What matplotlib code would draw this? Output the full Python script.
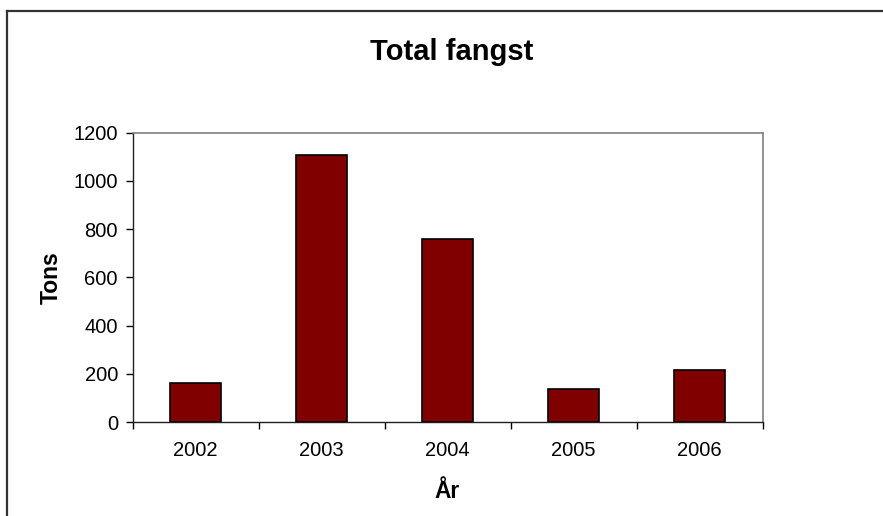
import matplotlib
matplotlib.use('Agg')
import matplotlib.pyplot as plt
from matplotlib.lines import Line2D

# data
years = ['2002', '2003', '2004', '2005', '2006']
tons = [161, 1108, 759, 138, 215]

plt.rcParams['font.family'] = ['Liberation Sans', 'DejaVu Sans']

W, H = 883, 516
fig = plt.figure(figsize=(W / 100, H / 100), dpi=100)

# plot area in pixels: left 132.5, right 762.5, top 132.7, bottom 422
ax = fig.add_axes([132.5 / W, 1 - 422 / H, (762.5 - 132.5) / W, (422 - 132.7) / H])

x = list(range(len(years)))
ax.bar(x, tons, width=0.4, color='#800000', edgecolor='black', linewidth=1.2, zorder=3)

ax.set_xlim(-0.5, len(years) - 0.5)
ax.set_ylim(0, 1200)
ax.set_yticks(range(0, 1201, 200))

# category boundary ticks, labels at the centres
ax.set_xticks([i - 0.5 for i in range(len(years) + 1)])
ax.set_xticklabels([])
ax.set_xticks(x, minor=True)
ax.set_xticklabels(years, minor=True)
ax.tick_params(axis='x', which='minor', length=0, pad=14, labelsize=14.5)
ax.tick_params(axis='x', which='major', length=5, width=1, direction='out')
ax.tick_params(axis='y', length=5, width=1, direction='out', pad=5.5, labelsize=14.5)

for side in ['top', 'right']:
    ax.spines[side].set_color('#808080')
    ax.spines[side].set_linewidth(1.2)
for side in ['left', 'bottom']:
    ax.spines[side].set_color('#202020')
    ax.spines[side].set_linewidth(1.0)

ax.set_ylabel('Tons', fontsize=16.5, fontweight='bold', labelpad=8)
ax.set_xlabel('År', fontsize=16.5, fontweight='bold', labelpad=14)

fig.text(452 / W, 1 - 52 / H, 'Total fangst', fontsize=21, fontweight='bold',
         ha='center', va='center')

# outer chart frame (only top and left edges visible)
fx, fy = 7.5 / W, 1 - 10.7 / H
fig.add_artist(Line2D([fx, 1], [fy, fy], transform=fig.transFigure, color='#333333', linewidth=1.6))
fig.add_artist(Line2D([fx, fx], [fy, 0], transform=fig.transFigure, color='#333333', linewidth=1.6))

fig.savefig('out.png', dpi=100)
